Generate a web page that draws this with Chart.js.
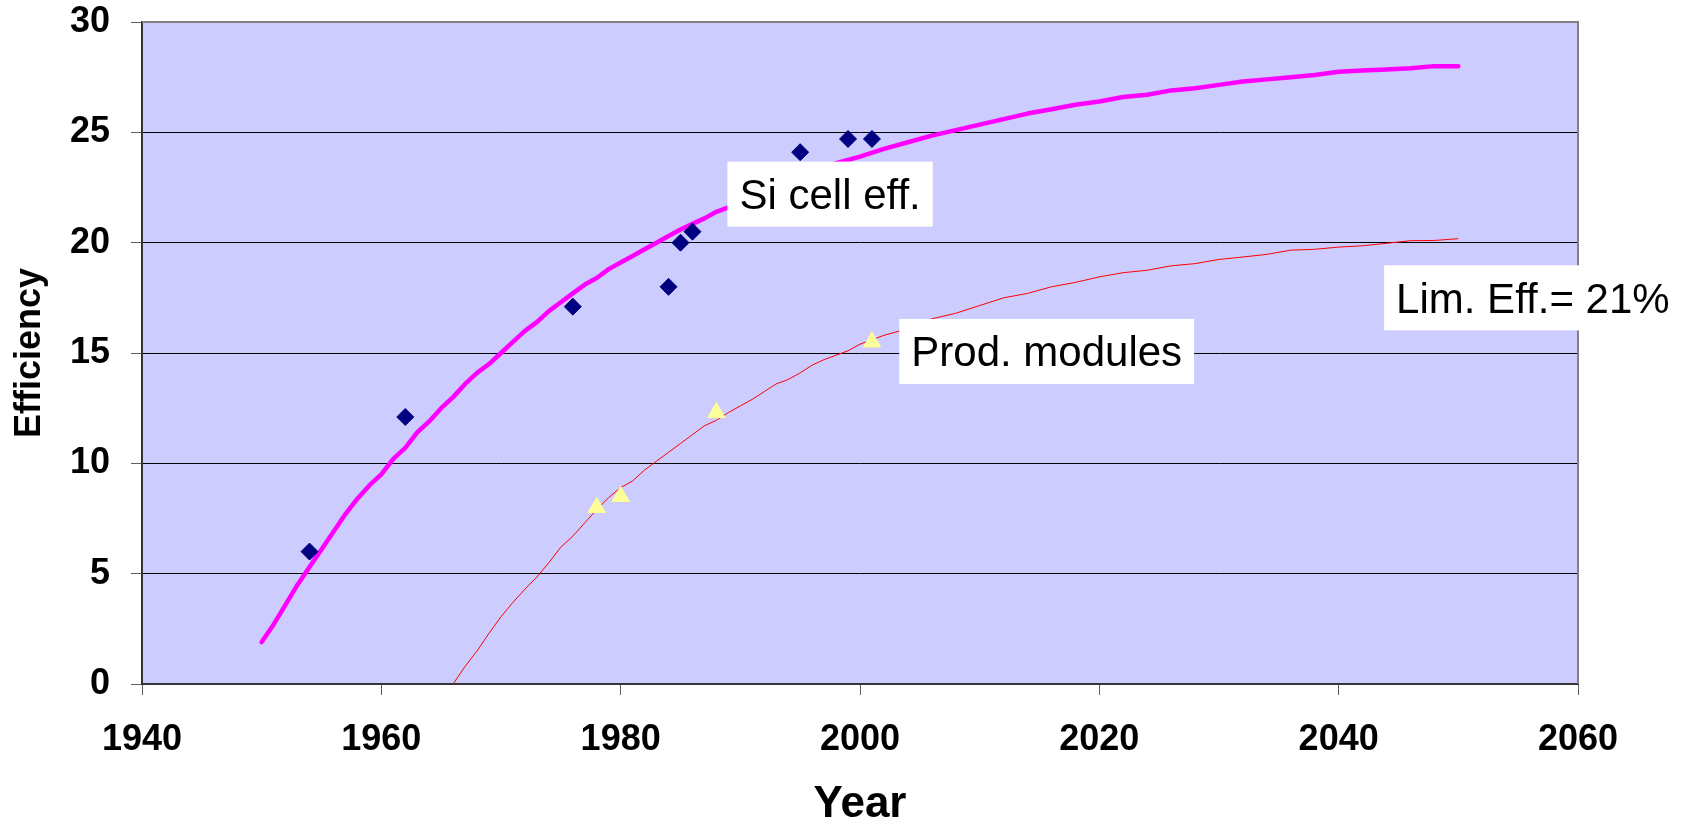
<!DOCTYPE html>
<html><head><meta charset="utf-8">
<script src="https://cdn.jsdelivr.net/npm/chart.js@4"></script>
<style>html,body{margin:0;padding:0;background:#fff;}#wrap{width:1703px;height:827px;}</style>
</head><body><div id="wrap"><canvas id="c" width="1703" height="827"></canvas></div>
<script>
// ---- data ----
const cellYears = [1954, 1962, 1976, 1984, 1985, 1986, 1995, 1999, 2001];
const cellEff   = [6.0, 12.1, 17.1, 18.0, 20.0, 20.5, 24.1, 24.7, 24.7];

const moduleYears = [1978, 1980, 1988, 2001];
const moduleEff   = [8.0, 8.5, 12.3, 15.5];

const cellFitYears = [1950,1951,1952,1953,1954,1955,1956,1957,1958,1959,1960,1961,1962,1963,1964,1965,1966,1967,1968,1969,1970,1971,1972,1973,1974,1975,1976,1977,1978,1979,1980,1981,1982,1983,1984,1985,1986,1987,1988,1990,1992,1994,1996,1998,2000,2002,2004,2006,2008,2010,2012,2014,2016,2018,2020,2022,2024,2026,2028,2030,2032,2034,2036,2038,2040,2042,2044,2046,2048,2050];
const cellFitEff   = [1.9,2.7,3.6,4.5,5.3,6.1,6.9,7.7,8.4,9.0,9.5,10.2,10.7,11.4,11.9,12.5,13.0,13.6,14.1,14.5,15.0,15.5,16.0,16.4,16.9,17.3,17.7,18.1,18.4,18.8,19.1,19.4,19.7,20.0,20.3,20.6,20.85,21.1,21.4,21.8,22.3,22.8,23.2,23.6,23.9,24.25,24.55,24.85,25.1,25.35,25.6,25.85,26.05,26.25,26.4,26.6,26.7,26.9,27.0,27.15,27.3,27.4,27.5,27.6,27.75,27.8,27.85,27.9,28.0,28.0];

const moduleFitYears = [1966,1967,1968,1969,1970,1971,1972,1973,1974,1975,1976,1977,1978,1979,1980,1981,1982,1983,1984,1985,1986,1987,1988,1989,1990,1991,1992,1993,1994,1995,1996,1997,1998,1999,2000,2001,2002,2004,2006,2008,2010,2012,2014,2016,2018,2020,2022,2024,2026,2028,2030,2032,2034,2036,2038,2040,2042,2044,2046,2048,2050];
const moduleFitEff   = [0,0.8,1.5,2.3,3.05,3.7,4.3,4.85,5.5,6.2,6.7,7.3,7.9,8.45,8.9,9.2,9.7,10.1,10.5,10.9,11.3,11.7,11.95,12.3,12.6,12.9,13.25,13.6,13.8,14.1,14.45,14.7,14.9,15.1,15.4,15.6,15.8,16.1,16.55,16.8,17.15,17.5,17.7,18.0,18.2,18.45,18.64,18.75,18.95,19.05,19.24,19.35,19.47,19.66,19.7,19.8,19.86,19.97,20.09,20.1,20.18];

const xTicks = [1940, 1960, 1980, 2000, 2020, 2040, 2060];
const yTicks = [0, 5, 10, 15, 20, 25, 30];

const noteTexts = ['Si cell eff.', 'Prod. modules', 'Lim. Eff.= 21%'];
const noteYears = [1997.5, 2015.6, 2044.8];
const noteEff   = [22.2, 15.07, 17.5];
const noteAlign = ['center', 'center', 'left'];

// ---- helpers ----
const pts = (xs, ys) => xs.map((x, i) => ({x, y: ys[i]}));
const FAM = '"Liberation Sans", Arial, sans-serif';

const decor = {
  id: 'decor',
  beforeDraw(chart) {
    const {ctx, chartArea: a} = chart;
    ctx.save();
    ctx.fillStyle = '#CCCCFF';
    ctx.fillRect(a.left, a.top, a.right - a.left, a.bottom - a.top);
    ctx.restore();
  },
  beforeDatasetsDraw(chart) {
    const {ctx, chartArea: a} = chart;
    ctx.save();
    ctx.strokeStyle = '#808080';
    ctx.lineWidth = 2;
    ctx.beginPath();
    ctx.moveTo(a.left, a.top);
    ctx.lineTo(a.right, a.top);
    ctx.lineTo(a.right, a.bottom);
    ctx.stroke();
    ctx.restore();
  },
  afterDatasetsDraw(chart) {
    const {ctx, scales} = chart;
    ctx.save();
    ctx.font = '42px ' + FAM;
    ctx.textBaseline = 'alphabetic';
    ctx.textAlign = 'left';
    const cap = 42 * 0.716;
    noteTexts.forEach((t, i) => {
      const px = scales.x.getPixelForValue(noteYears[i]);
      const py = scales.y.getPixelForValue(noteEff[i]);
      const w = ctx.measureText(t).width;
      const left = noteAlign[i] === 'left' ? px : px - w / 2;
      const padX = 12, boxH = 65;
      ctx.fillStyle = '#FFFFFF';
      ctx.fillRect(left - padX, py - boxH / 2, w + 2 * padX, boxH);
      ctx.fillStyle = '#000000';
      ctx.fillText(t, left, py + cap / 2);
    });
    ctx.restore();
  }
};

new Chart(document.getElementById('c'), {
  type: 'scatter',
  data: {
    datasets: [
      { label: 'Si cells', data: pts(cellYears, cellEff), pointStyle: 'rectRot', pointRadius: 8.5,
        backgroundColor: '#000080', borderColor: '#000080', borderWidth: 1, showLine: false, order: 1 },
      { label: 'Modules', data: pts(moduleYears, moduleEff), pointStyle: 'triangle', pointRadius: 10,
        backgroundColor: '#FFFF99', borderColor: '#FFFF99', borderWidth: 1, showLine: false, order: 1 },
      { label: 'Si cell fit', data: pts(cellFitYears, cellFitEff), showLine: true, pointRadius: 0,
        borderColor: '#FF00FF', borderWidth: 4.5, borderCapStyle: 'round', borderJoinStyle: 'round', tension: 0, order: 2 },
      { label: 'Module fit', data: pts(moduleFitYears, moduleFitEff), showLine: true, pointRadius: 0,
        borderColor: '#FF0000', borderWidth: 1, tension: 0, order: 2 }
    ]
  },
  options: {
    responsive: false,
    animation: false,
    events: [],
    layout: { padding: { left: 0, top: 22, right: 125, bottom: 0 } },
    plugins: { legend: { display: false }, tooltip: { enabled: false } },
    scales: {
      x: {
        type: 'linear', min: xTicks[0], max: xTicks[xTicks.length - 1],
        afterBuildTicks: s => { s.ticks = xTicks.map(v => ({value: v})); },
        afterFit: s => { s.height = 143; },
        ticks: { callback: v => String(v), color: '#000', padding: 23,
                 font: { family: FAM, size: 36, weight: 'bold' }, maxRotation: 0 },
        grid: { drawOnChartArea: false, drawTicks: true, tickLength: 11, tickColor: '#606060', tickWidth: 1 },
        border: { display: true, color: '#333333', width: 2 },
        title: { display: true, text: 'Year', color: '#000', padding: 0,
                 font: { family: FAM, size: 44, weight: 'bold', lineHeight: 1.0 } }
      },
      y: {
        type: 'linear', min: yTicks[0], max: yTicks[yTicks.length - 1],
        afterBuildTicks: s => { s.ticks = yTicks.map(v => ({value: v})); },
        afterFit: s => { s.width = 142; s.paddingTop = 0; s.paddingBottom = 0; },
        ticks: { callback: v => String(v), color: '#000', padding: 21,
                 font: { family: FAM, size: 36, weight: 'bold' } },
        grid: { drawOnChartArea: true, drawTicks: true, tickLength: 11, tickColor: '#606060',
                color: c => (c.tick && c.tick.value === 30) ? '#808080' : '#000000', lineWidth: 1 },
        border: { display: true, color: '#333333', width: 2 },
        title: { display: true, text: 'Efficiency', color: '#000', padding: { top: 8, bottom: 0 },
                 font: { family: FAM, size: 36, weight: 'bold', lineHeight: 1.2 } }
      }
    }
  },
  plugins: [decor]
});
</script></body></html>
